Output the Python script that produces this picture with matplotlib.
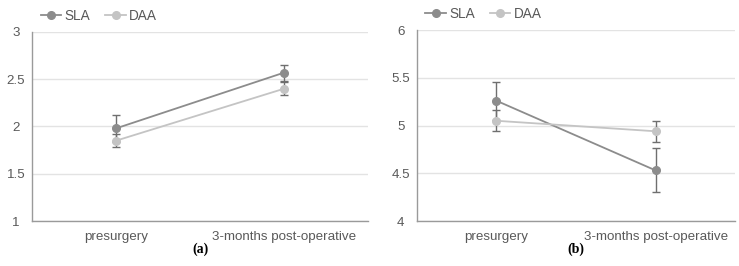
import matplotlib.pyplot as plt

plt.rcParams['font.family'] = ['Liberation Sans', 'DejaVu Sans']

categories = ['presurgery', '3-months post-operative']
series = ['SLA', 'DAA']

# panel (a)
a_sla = [1.98, 2.57]
a_sla_err = [0.14, 0.085]
a_daa = [1.85, 2.40]
a_daa_err = [0.07, 0.07]
a_ticks = [1, 1.5, 2, 2.5, 3]
a_ticklabels = ['1', '1.5', '2', '2.5', '3']

# panel (b)
b_sla = [5.26, 4.53]
b_sla_err = [0.20, 0.23]
b_daa = [5.05, 4.94]
b_daa_err = [0.11, 0.11]
b_ticks = [4, 4.5, 5, 5.5, 6]
b_ticklabels = ['4', '4.5', '5', '5.5', '6']

colors = {'SLA': '#8c8c8c', 'DAA': '#c4c4c4'}
err_color = '#6f6f6f'


def draw_panel(ax, sla, sla_err, daa, daa_err, ticks, ticklabels, tag):
    x = range(len(categories))
    for name, vals, errs in [('SLA', sla, sla_err), ('DAA', daa, daa_err)]:
        ax.errorbar(x, vals, yerr=errs, fmt='none', ecolor=err_color,
                    elinewidth=1.0, capsize=3, capthick=1.0, zorder=3)
        ax.plot(x, vals, color=colors[name], lw=1.3, marker='o',
                markersize=5.5, label=name, zorder=4)
    ax.set_xlim(-0.5, 1.5)
    ax.set_ylim(ticks[0], ticks[-1])
    ax.set_yticks(ticks)
    ax.set_yticklabels(ticklabels, ha='center')
    ax.set_xticks(list(x))
    ax.set_xticklabels(categories)
    ax.tick_params(length=0, labelsize=9.6, colors='#595959')
    ax.tick_params(axis='x', pad=7)
    ax.tick_params(axis='y', pad=11.5)
    ax.grid(axis='y', color='#e3e3e3', lw=1.0)
    ax.set_axisbelow(True)
    for s in ['top', 'right']:
        ax.spines[s].set_visible(False)
    for s in ['left', 'bottom']:
        ax.spines[s].set_color('#9a9a9a')
        ax.spines[s].set_linewidth(1.0)
    ax.legend(loc='lower left', bbox_to_anchor=(0.01, 1.02), ncol=2,
              frameon=False, fontsize=9.8, handlelength=1.5,
              handletextpad=0.25, columnspacing=1.1, borderaxespad=0,
              labelcolor='#595959')
    ax.text(0.5, -0.148, tag, transform=ax.transAxes, ha='center', va='center',
            fontsize=10, fontweight='bold', family='Liberation Serif')


fig = plt.figure(figsize=(7.39, 2.66), dpi=100)
ax1 = fig.add_axes([0.0433, 0.169, 0.455, 0.711])
ax2 = fig.add_axes([0.564, 0.169, 0.431, 0.718])

draw_panel(ax1, a_sla, a_sla_err, a_daa, a_daa_err, a_ticks, a_ticklabels, '(a)')
draw_panel(ax2, b_sla, b_sla_err, b_daa, b_daa_err, b_ticks, b_ticklabels, '(b)')

fig.savefig('out.png', dpi=100)
